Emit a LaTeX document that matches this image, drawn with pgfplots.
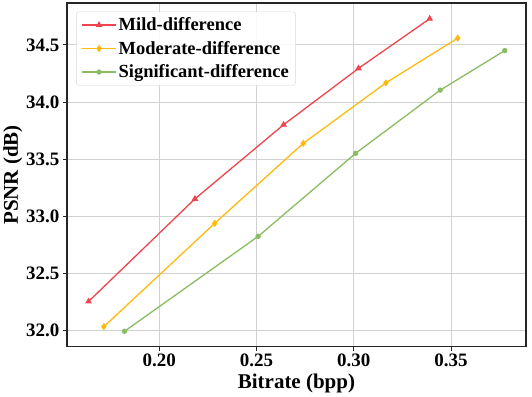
\documentclass[border=0pt]{standalone}
\usepackage{fontspec}
\setmainfont{Liberation Serif}
\usepackage{pgfplots}
\pgfplotsset{compat=1.18}
\definecolor{mildred}{RGB}{238,68,78}
\definecolor{modgold}{RGB}{255,185,15}
\definecolor{siggreen}{RGB}{138,188,98}
\begin{document}
\begin{tikzpicture}
\begin{axis}[
    width=458bp, height=343bp,
    scale only axis,
    xmin=0.1525, xmax=0.3885,
    ymin=31.853, ymax=34.867,
    xtick={0.20,0.25,0.30,0.35},
    ytick={32.0,32.5,33.0,33.5,34.0,34.5},
    xticklabel style={/pgf/number format/.cd, fixed, fixed zerofill, precision=2},
    yticklabel style={/pgf/number format/.cd, fixed, fixed zerofill, precision=1},
    /pgf/number format/assume math mode=true,
    ticklabel style={font=\fontsize{19}{22}\selectfont\bfseries},
    label style={font=\fontsize{21}{24}\selectfont\bfseries},
    xlabel={Bitrate (bpp)},
    ylabel={PSNR (dB)},
    ylabel style={yshift=-3bp},
    grid=major,
    major grid style={draw=black!18, line width=0.8pt},
    axis line style={line width=1.3pt, draw=black!85},
    tick style={draw=black!85, line width=0.8pt},
    tick align=outside,
    major tick length=4bp,
    xtick pos=bottom, ytick pos=left,
    legend pos=north west,
    legend cell align=left,
    legend style={font=\fontsize{18.5}{22}\selectfont\bfseries, draw=black!15, rounded corners=3pt, fill=white, fill opacity=0.9, text opacity=1, inner xsep=5pt, inner ysep=4pt, row sep=5pt, at={(0.02,0.975)}},
    legend image code/.code={
        \draw[mark repeat=2,mark phase=2] plot coordinates {(0cm,0cm) (0.6cm,0cm) (1.2cm,0cm)};
    },
    every axis plot/.append style={line width=1.3pt},
]
\addplot[color=mildred, mark=triangle*, mark size=2.6pt] coordinates {
    (0.1636,32.25) (0.2183,33.15) (0.2639,33.80) (0.3024,34.294) (0.339,34.729)
};
\addlegendentry{Mild-difference}
\addplot[color=modgold, mark=diamond*, mark size=2.6pt] coordinates {
    (0.1715,32.03) (0.2285,32.936) (0.2740,33.637) (0.3165,34.167) (0.3534,34.559)
};
\addlegendentry{Moderate-difference}
\addplot[color=siggreen, mark=*, mark size=2pt] coordinates {
    (0.1821,31.989) (0.2508,32.821) (0.3009,33.549) (0.3444,34.103) (0.3776,34.45)
};
\addlegendentry{Significant-difference}
\end{axis}
\path (current axis.north east) ++(6bp,3bp) coordinate (pad);
\end{tikzpicture}
\end{document}
